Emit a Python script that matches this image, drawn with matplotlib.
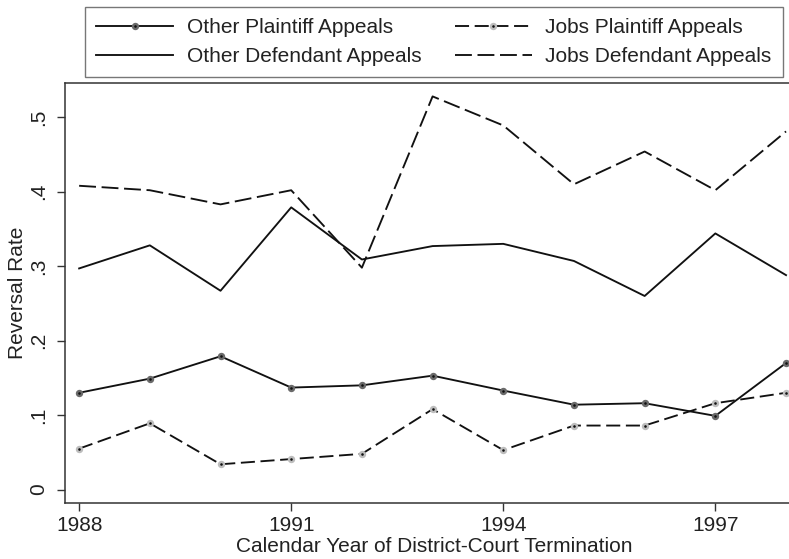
import matplotlib
matplotlib.use('Agg')
import matplotlib.pyplot as plt

plt.rcParams['font.family'] = ['Liberation Sans', 'DejaVu Sans']

years = [1988, 1989, 1990, 1991, 1992, 1993, 1994, 1995, 1996, 1997, 1998]
other_plaintiff = [0.130, 0.149, 0.179, 0.137, 0.140, 0.153, 0.133, 0.114, 0.116, 0.099, 0.170]
jobs_plaintiff = [0.055, 0.089, 0.034, 0.041, 0.048, 0.108, 0.053, 0.086, 0.086, 0.116, 0.130]
other_defendant = [0.297, 0.328, 0.267, 0.379, 0.309, 0.327, 0.330, 0.307, 0.260, 0.344, 0.288]
jobs_defendant = [0.408, 0.402, 0.383, 0.402, 0.298, 0.528, 0.489, 0.410, 0.454, 0.402, 0.481]

x_ticks = [1988, 1991, 1994, 1997]
y_ticks = [0, 0.1, 0.2, 0.3, 0.4, 0.5]
y_tick_labels = ['0', '.1', '.2', '.3', '.4', '.5']

fig = plt.figure(figsize=(7.89, 5.59), dpi=100)
# plot region runs past the right edge of the picture, as in the original
ax = fig.add_axes([65 / 789, 56 / 559, 738 / 789, 420 / 559])

lw = 1.35
h1, = ax.plot(years, other_plaintiff, color='#111111', lw=lw, marker='o',
              ms=3.6, mfc='#111111', mec='#6a6a6a', mew=1.7,
              label='Other Plaintiff Appeals')
h2, = ax.plot(years, jobs_plaintiff, color='#111111', lw=lw, marker='o',
              ms=3.6, mfc='#111111', mec='#bdbdbd', mew=1.7,
              linestyle=(0, (7.5, 3)), label='Jobs Plaintiff Appeals')
h3, = ax.plot(years, other_defendant, color='#111111', lw=lw,
              label='Other Defendant Appeals')
h4, = ax.plot(years, jobs_defendant, color='#111111', lw=lw,
              linestyle=(0, (9, 3)), label='Jobs Defendant Appeals')

ax.set_xlim(1987.80, 1998.24)
ax.set_ylim(-0.018, 0.546)
ax.set_xticks(x_ticks)
ax.set_yticks(y_ticks)
ax.set_yticklabels(y_tick_labels, rotation=90, va='center')
ax.tick_params(axis='both', direction='out', length=6, width=1,
               color='#333333', labelsize=15, labelcolor='#222222')
ax.tick_params(axis='y', pad=6)
for side in ['left', 'bottom', 'top']:
    ax.spines[side].set_color('#333333')
    ax.spines[side].set_linewidth(1.1)
ax.spines['right'].set_visible(False)

ax.set_xlabel('Calendar Year of District-Court Termination', fontsize=15,
              color='#222222', labelpad=1)
ax.set_ylabel('Reversal Rate', fontsize=15, color='#222222', labelpad=2)

leg = fig.legend(handles=[h1, h3, h2, h4], ncol=2, loc='upper center',
                 bbox_to_anchor=(434 / 789, 1 - 7 / 559), fontsize=15,
                 handlelength=3.7, handletextpad=0.65, columnspacing=1.6,
                 frameon=True, fancybox=False, borderpad=0.55,
                 labelspacing=0.45, borderaxespad=0)
leg.get_frame().set_edgecolor('#555555')
leg.get_frame().set_linewidth(1.0)
for t in leg.get_texts():
    t.set_color('#222222')

fig.savefig('out.png', dpi=100)
